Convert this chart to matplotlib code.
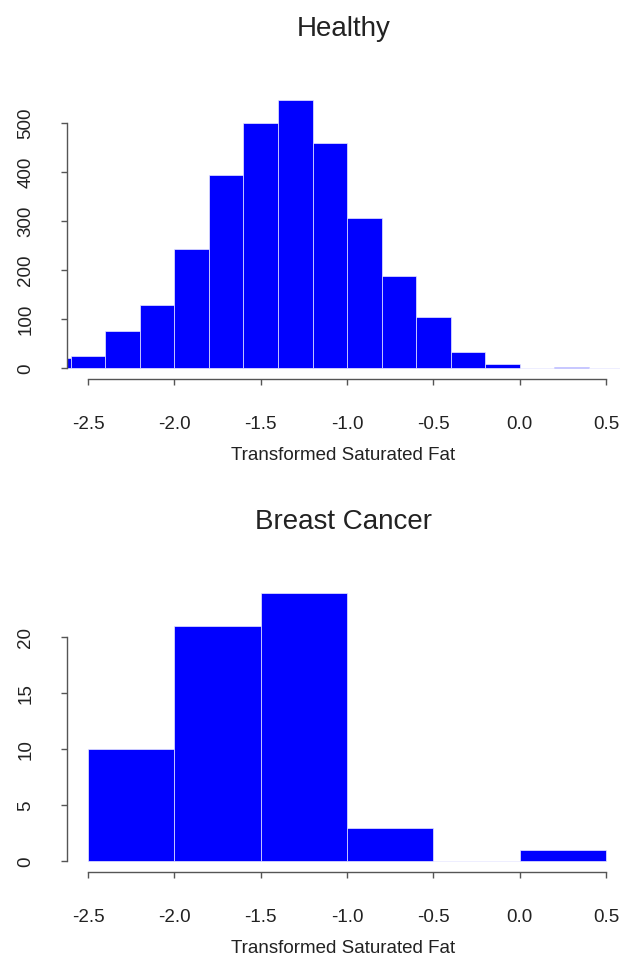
import numpy as np
import matplotlib
matplotlib.use("Agg")
import matplotlib.pyplot as plt

plt.rcParams['font.family'] = ['Liberation Sans', 'DejaVu Sans']

# Healthy group: histogram bins of width 0.2
HEALTHY_EDGES = [-2.8, -2.6, -2.4, -2.2, -2.0, -1.8, -1.6, -1.4, -1.2, -1.0,
                 -0.8, -0.6, -0.4, -0.2, 0.0, 0.2, 0.4, 0.6]
HEALTHY_COUNTS = [20, 26, 76, 130, 244, 395, 501, 548, 459, 307,
                  188, 105, 34, 9, 1, 3, 0]
HEALTHY_YTICKS = [0, 100, 200, 300, 400, 500]

# Breast cancer group: histogram bins of width 0.5
CANCER_EDGES = [-2.5, -2.0, -1.5, -1.0, -0.5, 0.0, 0.5]
CANCER_COUNTS = [10, 21, 24, 3, 0, 1]
CANCER_YTICKS = [0, 5, 10, 15, 20]

XTICKS = [-2.5, -2.0, -1.5, -1.0, -0.5, 0.0, 0.5]
XLIM = (-2.622, 0.581)
XLABEL = "Transformed Saturated Fat"

TEXT_COLOR = "#222222"
AXIS_COLOR = "#555555"

W, H = 623, 957


def drawHist(ax, edges, counts, yticks, title):
    edges = np.array(edges)
    ax.bar(edges[:-1], counts, width=np.diff(edges), align='edge',
           color='#0000ff', edgecolor='#e8e8ff', linewidth=0.5)
    top = max(counts)
    ax.set_ylim(-0.04 * top, 1.04 * top)
    ax.set_xlim(*XLIM)
    for side in ['top', 'right']:
        ax.spines[side].set_visible(False)
    ax.spines['left'].set_bounds(yticks[0], yticks[-1])
    ax.spines['bottom'].set_bounds(XTICKS[0], XTICKS[-1])
    for side in ['left', 'bottom']:
        ax.spines[side].set_color(AXIS_COLOR)
        ax.spines[side].set_linewidth(1.0)
    ax.set_xticks(XTICKS)
    ax.set_xticklabels(["{:.1f}".format(v) for v in XTICKS])
    ax.set_yticks(yticks)
    ax.set_yticklabels([str(v) for v in yticks], rotation=90, va='center')
    ax.tick_params(direction='out', length=4.5, width=1.0, color=AXIS_COLOR,
                   labelcolor=TEXT_COLOR, labelsize=13.5)
    ax.tick_params(axis='x', pad=22)
    ax.tick_params(axis='y', pad=19)
    ax.set_xlabel(XLABEL, fontsize=13.5, color=TEXT_COLOR, labelpad=10)
    ax.set_title(title, fontsize=20, color=TEXT_COLOR, pad=38)


def main():
    fig = plt.figure(figsize=(W / 100, H / 100), dpi=100)
    left, right = 67, 620
    ax1 = fig.add_axes([left / W, (H - 379) / H, (right - left) / W, 290 / H])
    ax2 = fig.add_axes([left / W, (H - 872) / H, (right - left) / W, 290 / H])
    drawHist(ax1, HEALTHY_EDGES, HEALTHY_COUNTS, HEALTHY_YTICKS, "Healthy")
    drawHist(ax2, CANCER_EDGES, CANCER_COUNTS, CANCER_YTICKS, "Breast Cancer")
    fig.savefig("out.png", dpi=100)


main()
